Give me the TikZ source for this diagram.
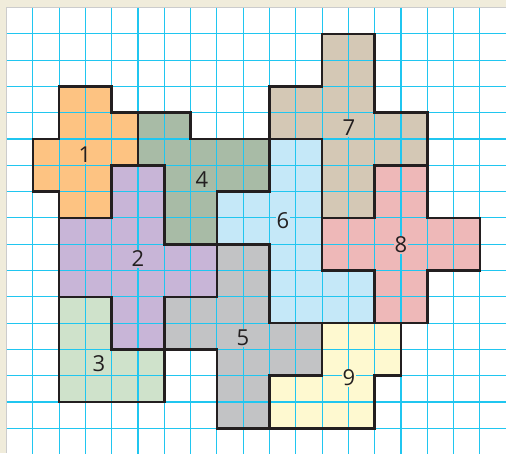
\documentclass[tikz,border=0pt]{standalone}
\usepackage{fontspec}
\setmainfont{Open Sans}
\definecolor{beige}{RGB}{240,236,219}
\definecolor{gridc}{RGB}{32,198,240}
\definecolor{ink}{RGB}{35,31,32}
\definecolor{cOrange}{RGB}{253,195,130}
\definecolor{cSage}{RGB}{168,187,166}
\definecolor{cPurple}{RGB}{200,181,215}
\definecolor{cMint}{RGB}{207,226,203}
\definecolor{cGray}{RGB}{194,195,197}
\definecolor{cBlue}{RGB}{197,232,248}
\definecolor{cTan}{RGB}{212,200,181}
\definecolor{cPink}{RGB}{238,184,184}
\definecolor{cYellow}{RGB}{254,249,208}
\tikzset{
  gridline/.style={draw=gridc,line width=1.1pt},
  outline/.style={draw=ink,line width=2.6pt,line join=miter},
  lab/.style={font=\fontsize{22}{22}\selectfont,text=ink,inner sep=1pt}
}
\begin{document}
\begin{tikzpicture}[x=1pt,y=-1pt]
\useasboundingbox (0,0) rectangle (506,453);
\fill[beige] (0,0) rectangle (506,453);
\fill[white] (6.5,7.5) rectangle (506,453);
\draw[black!20,line width=0.8pt] (6.5,453) -- (6.5,7.5) -- (506,7.5);
\begin{scope}[shift={(6.5pt,-7.5pt)},x=26.3pt,y=-26.3pt]
  % fills
  \fill[cOrange] (2,3) -- (4,3) -- (4,4) -- (5,4) -- (5,6) -- (4,6) -- (4,8) -- (2,8) -- (2,7) -- (1,7) -- (1,5) -- (2,5) -- cycle;
  \fill[cSage] (5,4) -- (7,4) -- (7,5) -- (10,5) -- (10,7) -- (8,7) -- (8,9) -- (6,9) -- (6,6) -- (5,6) -- cycle;
  \fill[cPurple] (4,6) -- (6,6) -- (6,9) -- (8,9) -- (8,11) -- (6,11) -- (6,13) -- (4,13) -- (4,11) -- (2,11) -- (2,8) -- (4,8) -- cycle;
  \fill[cMint] (2,11) -- (4,11) -- (4,13) -- (6,13) -- (6,15) -- (2,15) -- cycle;
  \fill[cGray] (8,9) -- (10,9) -- (10,12) -- (12,12) -- (12,14) -- (10,14) -- (10,16) -- (8,16) -- (8,13) -- (6,13) -- (6,11) -- (8,11) -- cycle;
  \fill[cBlue] (8,7) -- (10,7) -- (10,5) -- (12,5) -- (12,10) -- (14,10) -- (14,12) -- (10,12) -- (10,9) -- (8,9) -- cycle;
  \fill[cTan] (12,1) -- (14,1) -- (14,4) -- (16,4) -- (16,6) -- (14,6) -- (14,8) -- (12,8) -- (12,5) -- (10,5) -- (10,3) -- (12,3) -- cycle;
  \fill[cPink] (14,6) -- (16,6) -- (16,8) -- (18,8) -- (18,10) -- (16,10) -- (16,12) -- (14,12) -- (14,10) -- (12,10) -- (12,8) -- (14,8) -- cycle;
  \fill[cYellow] (12,12) -- (15,12) -- (15,14) -- (14,14) -- (14,16) -- (10,16) -- (10,14) -- (12,14) -- cycle;
  % grid
  \foreach \i in {1,...,18} \draw[gridline] (\i,0) -- (\i,17);
  \foreach \j in {1,...,16} \draw[gridline] (0,\j) -- (19.1,\j);
  % outlines
  \draw[outline] (2,3) -- (4,3) -- (4,4) -- (5,4) -- (5,6) -- (4,6) -- (4,8) -- (2,8) -- (2,7) -- (1,7) -- (1,5) -- (2,5) -- cycle;
  \draw[outline] (5,4) -- (7,4) -- (7,5) -- (10,5) -- (10,7) -- (8,7) -- (8,9) -- (6,9) -- (6,6) -- (5,6) -- cycle;
  \draw[outline] (4,6) -- (6,6) -- (6,9) -- (8,9) -- (8,11) -- (6,11) -- (6,13) -- (4,13) -- (4,11) -- (2,11) -- (2,8) -- (4,8) -- cycle;
  \draw[outline] (2,11) -- (4,11) -- (4,13) -- (6,13) -- (6,15) -- (2,15) -- cycle;
  \draw[outline] (8,9) -- (10,9) -- (10,12) -- (12,12) -- (12,14) -- (10,14) -- (10,16) -- (8,16) -- (8,13) -- (6,13) -- (6,11) -- (8,11) -- cycle;
  \draw[outline] (8,7) -- (10,7) -- (10,5) -- (12,5) -- (12,10) -- (14,10) -- (14,12) -- (10,12) -- (10,9) -- (8,9) -- cycle;
  \draw[outline] (12,1) -- (14,1) -- (14,4) -- (16,4) -- (16,6) -- (14,6) -- (14,8) -- (12,8) -- (12,5) -- (10,5) -- (10,3) -- (12,3) -- cycle;
  \draw[outline] (14,6) -- (16,6) -- (16,8) -- (18,8) -- (18,10) -- (16,10) -- (16,12) -- (14,12) -- (14,10) -- (12,10) -- (12,8) -- (14,8) -- cycle;
  \draw[outline] (12,12) -- (15,12) -- (15,14) -- (14,14) -- (14,16) -- (10,16) -- (10,14) -- (12,14) -- cycle;
\end{scope}
% labels
\node[lab,fill=cOrange] (l1) at (85,155) {1};
\node[lab,fill=cPurple] (l2) at (138,259) {2};
\node[lab,fill=cMint] (l3) at (99,364) {3};
\node[lab,fill=cSage] (l4) at (202,180) {4};
\node[lab,fill=cGray] (l5) at (243,338) {5};
\node[lab,fill=cBlue] (l6) at (283,221) {6};
\node[lab,fill=cTan] (l7) at (349,128) {7};
\node[lab,fill=cPink] (l8) at (401,245) {8};
\node[lab,fill=cYellow] (l9) at (349,378) {9};
\end{tikzpicture}
\end{document}
